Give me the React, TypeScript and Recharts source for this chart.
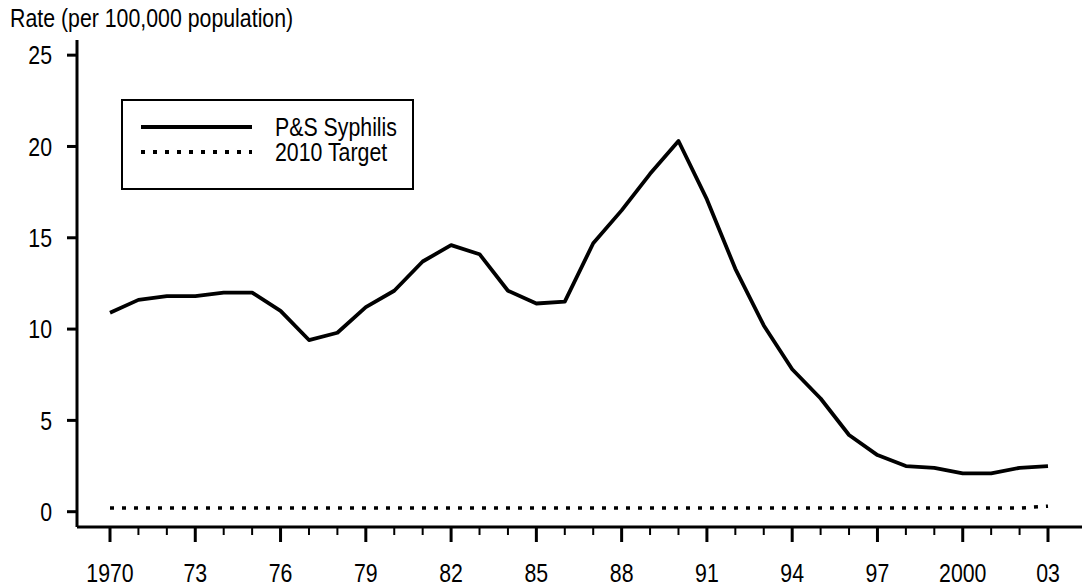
import React from 'react';
import { LineChart, Line, XAxis, YAxis, Legend } from 'recharts';

const years = [
  1970, 1971, 1972, 1973, 1974, 1975, 1976, 1977, 1978, 1979,
  1980, 1981, 1982, 1983, 1984, 1985, 1986, 1987, 1988, 1989,
  1990, 1991, 1992, 1993, 1994, 1995, 1996, 1997, 1998, 1999,
  2000, 2001, 2002, 2003,
];
const syphilisRates = [
  10.9, 11.6, 11.8, 11.8, 12.0, 12.0, 11.0, 9.4, 9.8, 11.2,
  12.1, 13.7, 14.6, 14.1, 12.1, 11.4, 11.5, 14.7, 16.5, 18.5,
  20.3, 17.1, 13.3, 10.2, 7.8, 6.2, 4.2, 3.1, 2.5, 2.4,
  2.1, 2.1, 2.4, 2.5,
];
const targetRates = [
  0.2, 0.2, 0.2, 0.2, 0.2, 0.2, 0.2, 0.2, 0.2, 0.2,
  0.2, 0.2, 0.2, 0.2, 0.2, 0.2, 0.2, 0.2, 0.2, 0.2,
  0.2, 0.2, 0.2, 0.2, 0.2, 0.2, 0.2, 0.2, 0.2, 0.2,
  0.2, 0.2, 0.2, 0.3,
];
const majorYears = [1970, 1973, 1976, 1979, 1982, 1985, 1988, 1991, 1994, 1997, 2000, 2003];
const majorLabels = ['1970', '73', '76', '79', '82', '85', '88', '91', '94', '97', '2000', '03'];
const yTicks = [0, 5, 10, 15, 20, 25];
const seriesNames = ['P&S Syphilis', '2010 Target'];
const yTitle = 'Rate (per 100,000 population)';

const data = years.map((year, i) => ({
  year,
  syphilis: syphilisRates[i],
  target: targetRates[i],
}));

const FONT = "'Liberation Sans', Arial, sans-serif";
const FONT_SIZE = 26;
const NARROW = 0.82;

const NarrowText = ({ x, y, anchor = 'start', dy = '0', children }: any) => (
  <text
    transform={`translate(${x},${y}) scale(${NARROW},1)`}
    textAnchor={anchor}
    dy={dy}
    fontFamily={FONT}
    fontSize={FONT_SIZE}
    fill="#000"
  >
    {children}
  </text>
);

const XTick = (props: any) => {
  const { x, y, payload } = props;
  const idx = majorYears.indexOf(payload.value);
  const major = idx >= 0;
  return (
    <g>
      <line x1={x} x2={x} y1={y} y2={y + (major ? 15 : 8)} stroke="#000" strokeWidth={major ? 3 : 2} />
      {major && (
        <NarrowText x={x} y={y + 55} anchor="middle">
          {majorLabels[idx]}
        </NarrowText>
      )}
    </g>
  );
};

const YTick = (props: any) => {
  const { x, y, payload } = props;
  return (
    <NarrowText x={x} y={y} anchor="end" dy="0.355em">
      {payload.value}
    </NarrowText>
  );
};

const LegendBox = () => (
  <svg width={296} height={94} style={{ display: 'block' }}>
    <rect x={1} y={1} width={291} height={89} fill="#fff" stroke="#000" strokeWidth={2} />
    <line x1={20} x2={131} y1={28} y2={28} stroke="#000" strokeWidth={4} />
    <line x1={20} x2={131} y1={53} y2={53} stroke="#000" strokeWidth={4} strokeDasharray="4 8" />
    <NarrowText x={154} y={28} dy="0.355em">{seriesNames[0]}</NarrowText>
    <NarrowText x={154} y={53} dy="0.355em">{seriesNames[1]}</NarrowText>
  </svg>
);

const YTitle = () => (
  <NarrowText x={10} y={27}>{yTitle}</NarrowText>
);

export default function App() {
  return (
    <div style={{ position: 'absolute', left: 0, top: 0, width: 1084, height: 587, background: '#fff' }}>
      <LineChart
        width={1084}
        height={587}
        data={data}
        margin={{ top: 40, right: 2, bottom: 0, left: 0 }}
      >
        <XAxis
          dataKey="year"
          type="number"
          domain={[1968.839, 2004.196]}
          ticks={years}
          interval={0}
          tick={<XTick />}
          tickLine={false}
          tickSize={0}
          tickMargin={0}
          height={60}
          axisLine={{ stroke: '#000', strokeWidth: 3 }}
          allowDataOverflow
        />
        <YAxis
          type="number"
          domain={[-0.838, 25.83]}
          ticks={yTicks}
          interval={0}
          width={77}
          tickSize={10}
          tickMargin={15}
          tickLine={{ stroke: '#000', strokeWidth: 3 }}
          axisLine={{ stroke: '#000', strokeWidth: 3 }}
          tick={<YTick />}
          label={{ content: () => <YTitle /> }}
          allowDataOverflow
        />
        <Legend
          layout="horizontal"
          verticalAlign="middle"
          align="center"
          content={() => <LegendBox />}
          wrapperStyle={{ position: 'absolute', left: 121, top: 99, width: 296, height: 94 }}
        />
        <Line
          dataKey="syphilis"
          name={seriesNames[0]}
          stroke="#000"
          strokeWidth={3.8}
          dot={false}
          activeDot={false}
          isAnimationActive={false}
          strokeLinejoin="round"
        />
        <Line
          dataKey="target"
          name={seriesNames[1]}
          stroke="#000"
          strokeWidth={3.5}
          strokeDasharray="4 8"
          dot={false}
          activeDot={false}
          isAnimationActive={false}
        />
      </LineChart>
    </div>
  );
}
